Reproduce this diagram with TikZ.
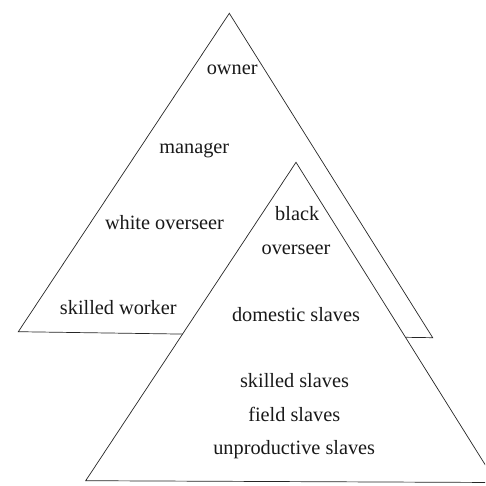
\documentclass[tikz,border=0pt]{standalone}
\usepackage{fontspec}
\setmainfont{Liberation Serif}
\begin{document}
\begin{tikzpicture}[x=1pt,y=-1pt,
  tri/.style={draw=black!85,line width=0.7pt,fill=white,line join=miter},
  lbl/.style={anchor=base,inner sep=0pt,font=\fontsize{20.3}{24}\selectfont,text=black!90}]
  \clip (0,0) rectangle (485,486);
  % corners of the two pyramids
  \coordinate (wa) at (229.3,13.3);
  \coordinate (wl) at (18.3,331.7);
  \coordinate (wr) at (432.7,337.7);
  \coordinate (ba) at (296,162.3);
  \coordinate (bl) at (85.7,480.7);
  \coordinate (br) at (496.3,482.5);
  % rear pyramid
  \draw[tri] (wa) -- (wl) -- (wr) -- cycle;
  \node[lbl] (owner) at (232.2,75) {owner};
  \node[lbl] (manager) at (194.3,154) {manager};
  \node[lbl] (wover) at (164.5,229.3) {white overseer};
  \node[lbl] (sworker) at (118.3,314) {skilled worker};
  % front pyramid
  \draw[tri] (ba) -- (bl) -- (br) -- cycle;
  \node[lbl] (black) at (297.2,220.7) {black};
  \node[lbl] (bover) at (296,254) {overseer};
  \node[lbl] (domestic) at (296,321) {domestic slaves};
  \node[lbl] (sslaves) at (294.5,387.3) {skilled slaves};
  \node[lbl] (fslaves) at (294.2,421.7) {field slaves};
  \node[lbl] (uslaves) at (294.2,454) {unproductive slaves};
\end{tikzpicture}
\end{document}
